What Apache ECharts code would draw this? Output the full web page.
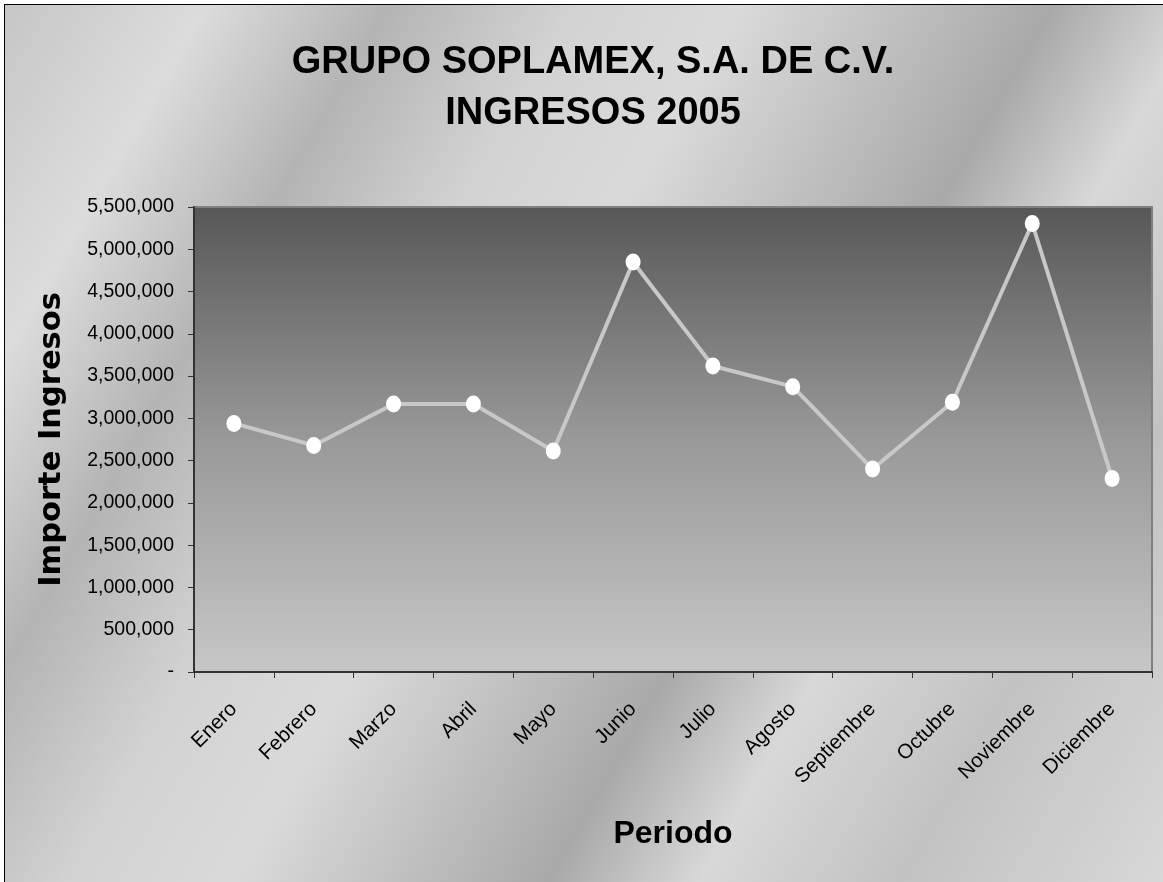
<!DOCTYPE html>
<html>
<head>
<meta charset="utf-8">
<script src="https://cdn.jsdelivr.net/npm/echarts@6/dist/echarts.min.js"></script>
<style>
  html, body { margin: 0; padding: 0; background: #ffffff; }
  #bg {
    position: absolute; left: 4px; top: 4px; width: 1159px; height: 878px;
    border-left: 1px solid #000; border-top: 1px solid #000;
    background: linear-gradient(120deg, #c6c6c6 0%, #dcdcdc 12%, #b4b4b4 23%, #d2d2d2 34%, #dadada 44%, #c0c0c0 54%, #a9a9a9 63%, #d8d8d8 72%, #c2c2c2 84%, #d8d8d8 100%);
  }
  #chart { position: absolute; left: 0; top: 0; width: 1163px; height: 882px; }
</style>
</head>
<body>
<div id="bg"></div>
<div id="chart"></div>
<script>
const titleLines = ['GRUPO SOPLAMEX, S.A. DE C.V.', 'INGRESOS 2005'];
const xAxisTitle = 'Periodo';
const yAxisTitle = 'Importe Ingresos';
const months = ['Enero', 'Febrero', 'Marzo', 'Abril', 'Mayo', 'Junio', 'Julio', 'Agosto', 'Septiembre', 'Octubre', 'Noviembre', 'Diciembre'];
const ingresos = [2940000, 2680000, 3170000, 3170000, 2615000, 4850000, 3620000, 3375000, 2400000, 3190000, 5305000, 2290000];
const yMin = 0;
const yMax = 5500000;
const yStep = 500000;

const chart = echarts.init(document.getElementById('chart'), null, { renderer: 'canvas' });
chart.setOption({
  backgroundColor: 'transparent',
  animation: false,
  title: {
    text: titleLines.join('\n'),
    left: 588,
    top: 32,
    textAlign: 'center',
    textStyle: {
      fontFamily: 'Liberation Sans, Arial, sans-serif',
      fontWeight: 'bold',
      fontSize: 38,
      lineHeight: 51,
      color: '#000'
    }
  },
  grid: {
    left: 194, top: 207, right: 11, bottom: 210,
    show: true,
    borderColor: '#808080',
    borderWidth: 2,
    backgroundColor: new echarts.graphic.LinearGradient(0, 0, 0, 1, [
      { offset: 0, color: '#575757' },
      { offset: 0.5, color: '#999999' },
      { offset: 1, color: '#c7c7c7' }
    ])
  },
  xAxis: {
    type: 'category',
    data: months,
    boundaryGap: true,
    name: xAxisTitle,
    nameLocation: 'middle',
    nameGap: 146,
    nameTextStyle: {
      fontFamily: 'Liberation Sans, Arial, sans-serif',
      fontWeight: 'bold', fontSize: 32, color: '#000'
    },
    axisLine: { show: true, lineStyle: { color: '#333', width: 2 } },
    axisTick: { show: true, inside: false, length: 6, lineStyle: { color: '#333', width: 1 } },
    axisLabel: {
      rotate: 45, margin: 34, interval: 0,
      fontFamily: 'Liberation Sans, Arial, sans-serif',
      fontSize: 20.5, color: '#000'
    },
    splitLine: { show: false }
  },
  yAxis: {
    type: 'value',
    min: yMin, max: yMax, interval: yStep,
    name: yAxisTitle,
    nameLocation: 'middle',
    nameGap: 126,
    nameRotate: 90,
    nameTextStyle: {
      fontFamily: 'DejaVu Sans, sans-serif',
      fontWeight: 'bold', fontSize: 30.5, color: '#000'
    },
    axisLine: { show: true, lineStyle: { color: '#333', width: 2 } },
    axisTick: { show: true, inside: false, length: 6, lineStyle: { color: '#333', width: 1 } },
    axisLabel: {
      margin: 20,
      fontFamily: 'Liberation Sans, Arial, sans-serif',
      fontSize: 19.5, color: '#000',
      formatter: function (v) { return v === 0 ? '-' : v.toLocaleString('en-US'); }
    },
    splitLine: { show: false }
  },
  series: [{
    type: 'line',
    data: ingresos,
    symbol: 'circle',
    symbolSize: [15, 17],
    itemStyle: { color: '#ffffff', borderWidth: 0 },
    lineStyle: { color: '#c8c8c8', width: 4 },
    emphasis: { disabled: true },
    z: 3
  }]
});
</script>
</body>
</html>
